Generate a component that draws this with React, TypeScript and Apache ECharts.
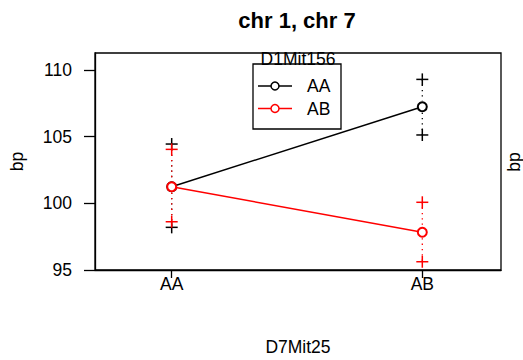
import React, { useEffect, useRef } from 'react';
import * as echarts from 'echarts';

const categories = ['AA', 'AB'];
const xPos = [1, 2];
const groupNames = ['AA', 'AB'];
const groupColors = ['#000000', '#ff0000'];
const meanAA = [101.25, 107.25];
const upperAA = [104.45, 109.3];
const lowerAA = [98.2, 105.13];
const meanAB = [101.25, 97.83];
const upperAB = [104.05, 100.08];
const lowerAB = [98.62, 95.62];
const yTicks = [95, 100, 105, 110];

const FONT = '"Liberation Sans", Arial, sans-serif';

export default function App() {
  const ref = useRef<HTMLDivElement>(null);
  useEffect(() => {
    if (!ref.current) return;
    const chart = echarts.init(ref.current, null, { renderer: 'svg' });
    const groups = [
      { name: groupNames[0], color: groupColors[0], mean: meanAA, upper: upperAA, lower: lowerAA },
      { name: groupNames[1], color: groupColors[1], mean: meanAB, upper: upperAB, lower: lowerAB },
    ];
    const series: any[] = [];
    groups.forEach((g, gi) => {
      series.push({
        type: 'custom',
        name: g.name + '-err',
        z: 2 + gi * 2,
        data: xPos.map((x, i) => [x, g.mean[i], g.upper[i], g.lower[i]]),
        encode: { x: 0, y: [1, 2, 3] },
        renderItem: (params: any, api: any) => {
          const x = api.value(0);
          const pm = api.coord([x, api.value(1)]);
          const pu = api.coord([x, api.value(2)]);
          const pl = api.coord([x, api.value(3)]);
          const r = 6;
          const h = 6;
          const c = g.color;
          const children: any[] = [];
          if (pm[1] - r > pu[1]) {
            children.push({ type: 'line', shape: { x1: pm[0], y1: pu[1], x2: pm[0], y2: pm[1] - r }, style: { stroke: c, lineWidth: 1.3, lineDash: [1.3, 4] } });
          }
          if (pl[1] > pm[1] + r) {
            children.push({ type: 'line', shape: { x1: pm[0], y1: pm[1] + r, x2: pm[0], y2: pl[1] }, style: { stroke: c, lineWidth: 1.3, lineDash: [1.3, 4] } });
          }
          [pu, pl].forEach((p) => {
            children.push({ type: 'line', shape: { x1: p[0] - h, y1: p[1], x2: p[0] + h, y2: p[1] }, style: { stroke: c, lineWidth: 1.5 } });
            children.push({ type: 'line', shape: { x1: p[0], y1: p[1] - h, x2: p[0], y2: p[1] + h }, style: { stroke: c, lineWidth: 1.5 } });
          });
          return { type: 'group', children };
        },
      });
      series.push({
        type: 'line',
        name: g.name,
        z: 3 + gi * 2,
        data: xPos.map((x, i) => [x, g.mean[i]]),
        symbol: 'emptyCircle',
        symbolSize: 9,
        lineStyle: { color: g.color, width: 1.5 },
        itemStyle: { color: g.color, borderColor: g.color, borderWidth: 1.5 },
      });
    });

    const legendX = 253, legendY = 64;
    const graphic: any[] = [
      {
        type: 'text', x: 297, y: 20, z: 10,
        style: { text: 'chr 1, chr 7', font: `bold 22px ${FONT}`, fill: '#000', textAlign: 'center', textVerticalAlign: 'middle' },
      },
      {
        type: 'text', x: 514, y: 162, rotation: Math.PI / 2, z: 10,
        style: { text: 'bp', font: `17.5px ${FONT}`, fill: '#000', textAlign: 'center', textVerticalAlign: 'middle' },
      },
      {
        type: 'rect', z: 20,
        shape: { x: legendX, y: legendY, width: 88, height: 65 },
        style: { fill: '#fff', stroke: '#000', lineWidth: 1.3 },
      },
      {
        type: 'text', x: 298, y: 59, z: 21,
        style: { text: 'D1Mit156', font: `17.5px ${FONT}`, fill: '#000', textAlign: 'center', textVerticalAlign: 'middle' },
      },
    ];
    groups.forEach((g, gi) => {
      const y = 86 + gi * 22.5;
      graphic.push({ type: 'line', z: 21, shape: { x1: 258, y1: y, x2: 292, y2: y }, style: { stroke: g.color, lineWidth: 1.5 } });
      graphic.push({ type: 'circle', z: 22, shape: { cx: 275, cy: y, r: 4 }, style: { fill: '#fff', stroke: g.color, lineWidth: 1.5 } });
      graphic.push({
        type: 'text', x: 307, y, z: 22,
        style: { text: g.name, font: `17.5px ${FONT}`, fill: '#000', textAlign: 'left', textVerticalAlign: 'middle' },
      });
    });

    chart.setOption({
      animation: false,
      backgroundColor: '#fff',
      textStyle: { fontFamily: FONT },
      grid: { left: 95, right: 22, top: 53, bottom: 90, show: true, borderColor: '#000', borderWidth: 1.3, backgroundColor: 'transparent', outerBoundsMode: 'none', containLabel: false },
      xAxis: {
        type: 'value', min: 0.694, max: 2.314,
        name: 'D7Mit25', nameLocation: 'middle', nameGap: 68,
        nameTextStyle: { fontSize: 17.5, color: '#000', fontFamily: FONT },
        axisLine: { show: true, lineStyle: { color: '#000', width: 1.3 } },
        axisTick: { show: true, length: 8, customValues: xPos, lineStyle: { color: '#000', width: 1.3 } },
        axisLabel: {
          customValues: xPos, margin: 5, fontSize: 17.5, color: '#000', fontFamily: FONT,
          formatter: (v: number) => categories[xPos.indexOf(v)] ?? '',
        },
        splitLine: { show: false },
      },
      yAxis: {
        type: 'value', min: 95, max: 111.28,
        name: 'bp', nameLocation: 'middle', nameGap: 69, nameRotate: 90,
        nameTextStyle: { fontSize: 17.5, color: '#000', fontFamily: FONT },
        axisLine: { show: true, lineStyle: { color: '#000', width: 1.3 } },
        axisTick: { show: true, length: 11, customValues: yTicks, lineStyle: { color: '#000', width: 1.3 } },
        axisLabel: { customValues: yTicks, margin: 23, fontSize: 17.5, color: '#000', fontFamily: FONT },
        splitLine: { show: false },
      },
      series,
      graphic,
    });
    return () => chart.dispose();
  }, []);
  return <div ref={ref} style={{ position: 'fixed', left: 0, top: 0, width: 523, height: 360 }} />;
}
